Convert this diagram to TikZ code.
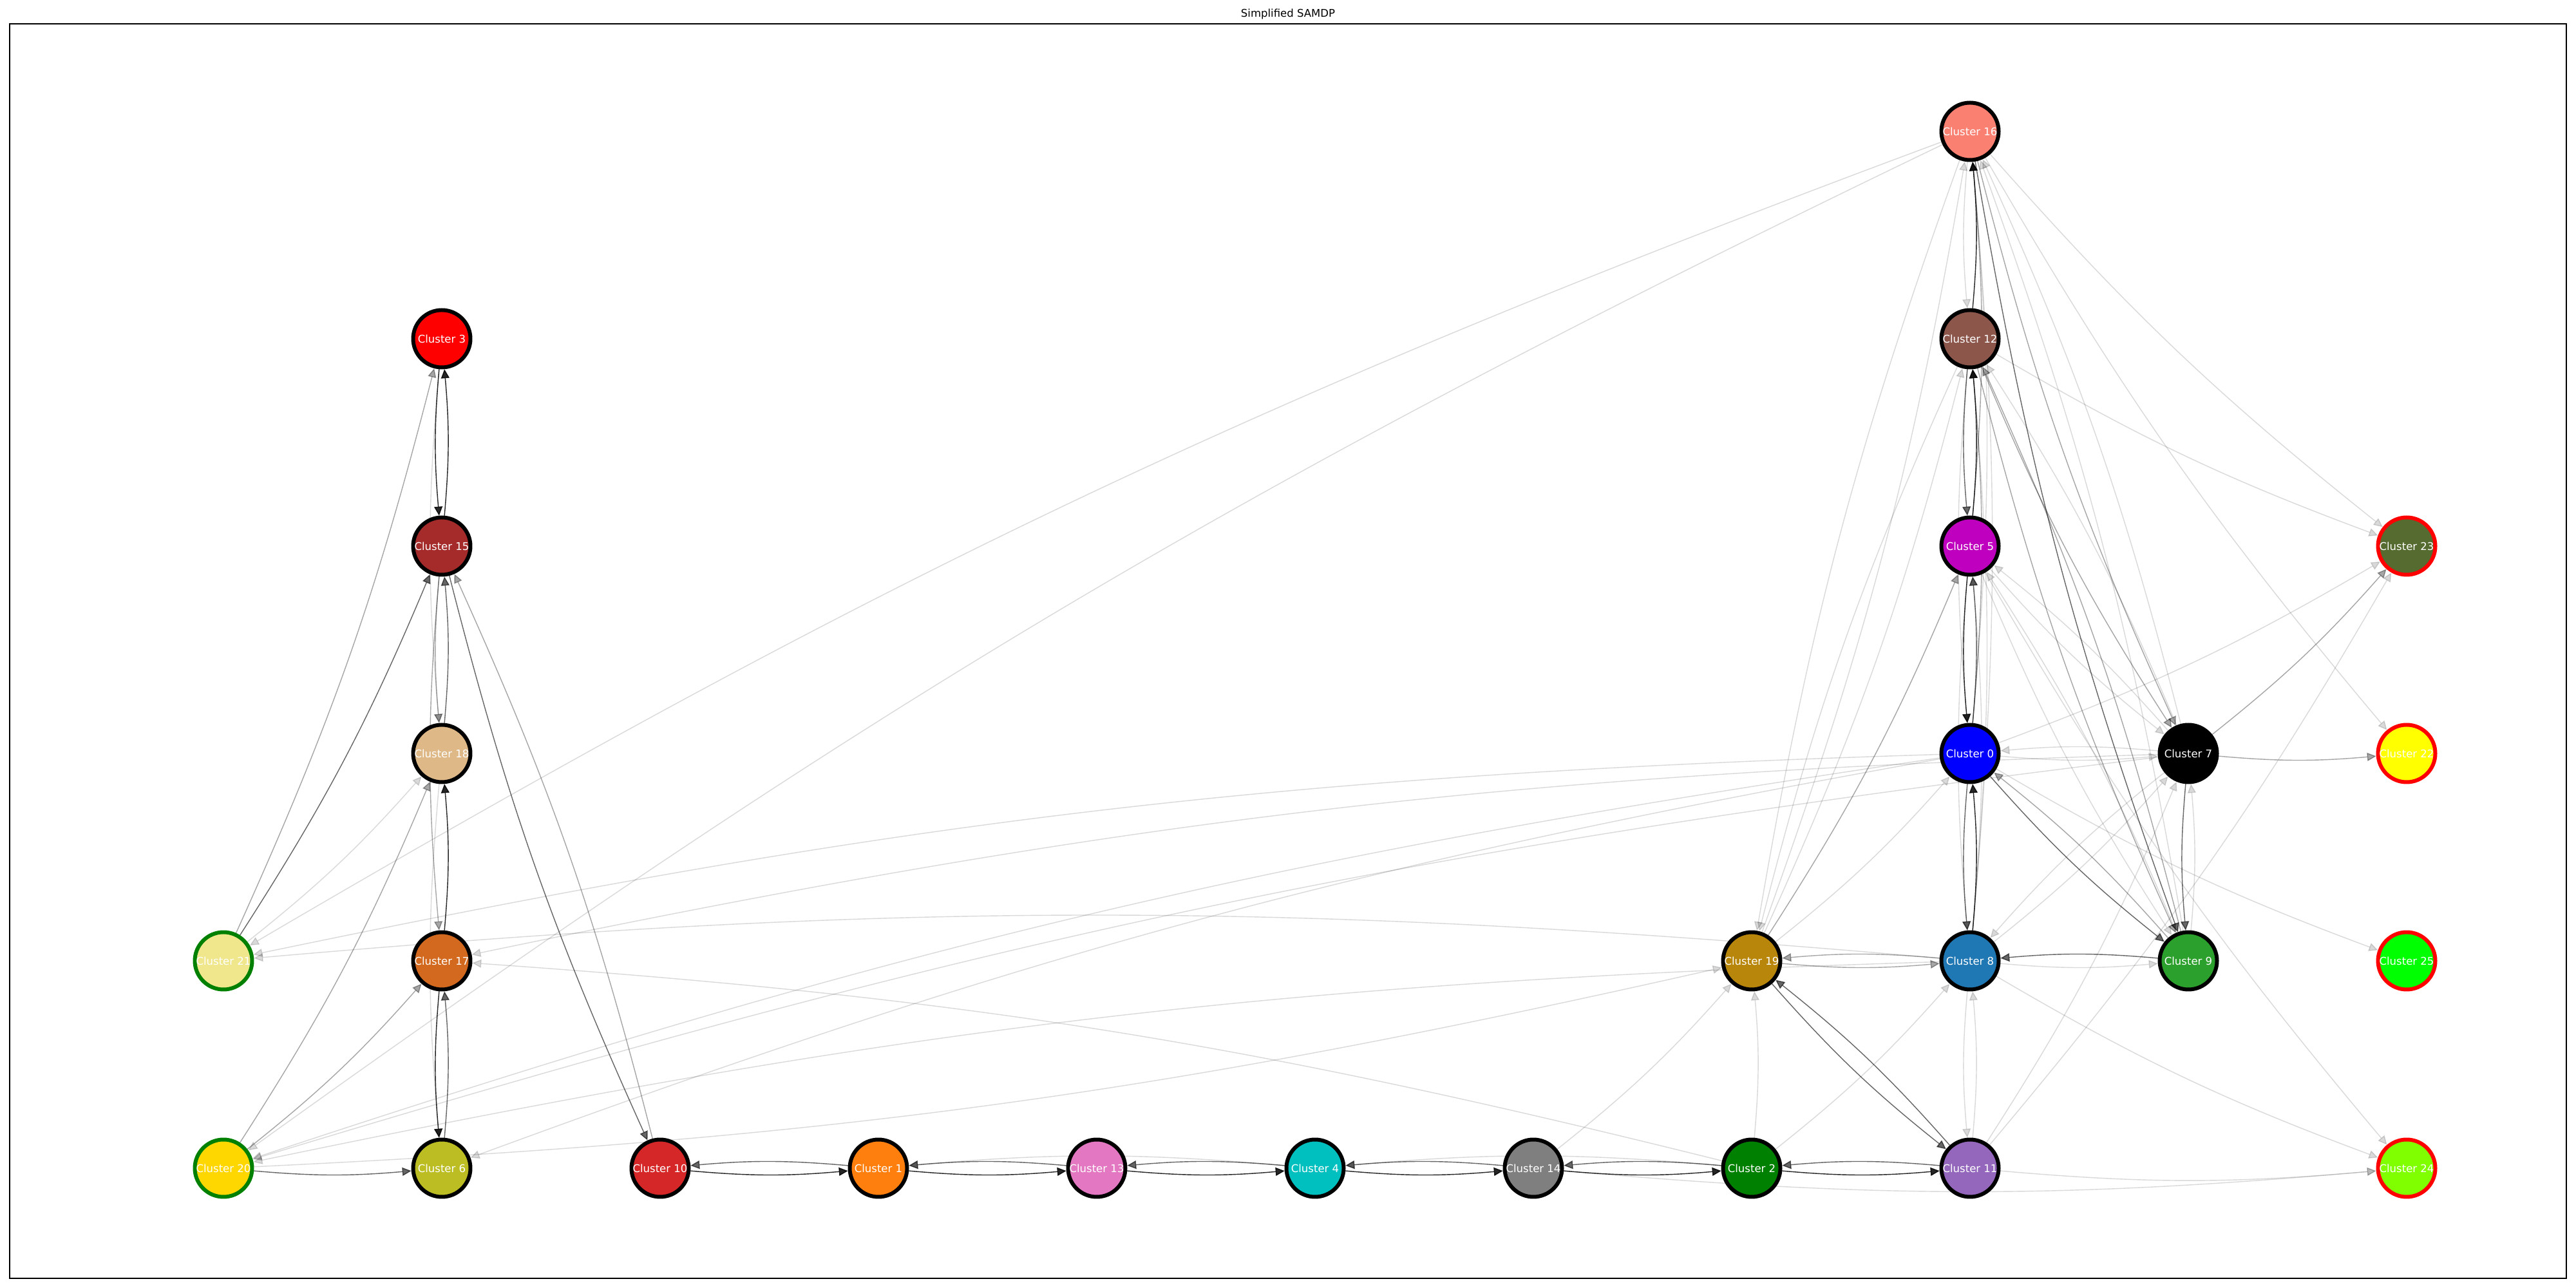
\documentclass[tikz,border=0pt]{standalone}
\usepackage{fontspec}
\setmainfont{DejaVu Sans}
\usetikzlibrary{arrows.meta,backgrounds}
\definecolor{salmon}{HTML}{FA8072}
\definecolor{tabbrown}{HTML}{8C564B}
\definecolor{mbrown}{HTML}{A52A2A}
\definecolor{mmagenta}{HTML}{BF00BF}
\definecolor{darkolive}{HTML}{556B2F}
\definecolor{burlywood}{HTML}{DEB887}
\definecolor{mblue}{HTML}{0000FF}
\definecolor{myellow}{HTML}{FFFF00}
\definecolor{khaki}{HTML}{F0E68C}
\definecolor{chocolate}{HTML}{D2691E}
\definecolor{darkgoldenrod}{HTML}{B8860B}
\definecolor{tabblue}{HTML}{1F77B4}
\definecolor{tabgreen}{HTML}{2CA02C}
\definecolor{mlime}{HTML}{00FF00}
\definecolor{mgold}{HTML}{FFD700}
\definecolor{tabolive}{HTML}{BCBD22}
\definecolor{tabred}{HTML}{D62728}
\definecolor{taborange}{HTML}{FF7F0E}
\definecolor{tabpink}{HTML}{E377C2}
\definecolor{mcyan}{HTML}{00BFBF}
\definecolor{tabgray}{HTML}{7F7F7F}
\definecolor{mgreen}{HTML}{008000}
\definecolor{tabpurple}{HTML}{9467BD}
\definecolor{chartreuse}{HTML}{7FFF00}
\definecolor{mred}{HTML}{FF0000}
\begin{document}
\begin{tikzpicture}[
    cluster/.style={circle,draw=black,line width=1.7pt,minimum size=0.89cm,inner sep=0pt,text=white,font=\fontsize{4.7}{5.6}\selectfont},
    startc/.style={cluster,draw=mgreen},
    endc/.style={cluster,draw=mred},
    trans/.style={-{Triangle[length=1.4mm,width=1.3mm]},line width=0.4pt,bend right=5}]
    \useasboundingbox (0,0) rectangle (40,20);
    \node[font=\fontsize{4.7}{5.6}\selectfont] (title) at (20,19.78) {Simplified SAMDP};
    \draw[line width=0.6pt] (0.15,0.15) rectangle (39.85,19.63);
    \node[cluster,fill=salmon] (c16) at (30.59,17.96) {Cluster 16};
    \node[cluster,fill=mred] (c3) at (6.86,14.74) {Cluster 3};
    \node[cluster,fill=tabbrown] (c12) at (30.59,14.74) {Cluster 12};
    \node[cluster,fill=mbrown] (c15) at (6.86,11.52) {Cluster 15};
    \node[cluster,fill=mmagenta] (c5) at (30.59,11.52) {Cluster 5};
    \node[endc,fill=darkolive] (c23) at (37.37,11.52) {Cluster 23};
    \node[cluster,fill=burlywood] (c18) at (6.86,8.30) {Cluster 18};
    \node[cluster,fill=mblue] (c0) at (30.59,8.30) {Cluster 0};
    \node[cluster,fill=black] (c7) at (33.98,8.30) {Cluster 7};
    \node[endc,fill=myellow] (c22) at (37.37,8.30) {Cluster 22};
    \node[startc,fill=khaki] (c21) at (3.47,5.08) {Cluster 21};
    \node[cluster,fill=chocolate] (c17) at (6.86,5.08) {Cluster 17};
    \node[cluster,fill=darkgoldenrod] (c19) at (27.20,5.08) {Cluster 19};
    \node[cluster,fill=tabblue] (c8) at (30.59,5.08) {Cluster 8};
    \node[cluster,fill=tabgreen] (c9) at (33.98,5.08) {Cluster 9};
    \node[endc,fill=mlime] (c25) at (37.37,5.08) {Cluster 25};
    \node[startc,fill=mgold] (c20) at (3.47,1.86) {Cluster 20};
    \node[cluster,fill=tabolive] (c6) at (6.86,1.86) {Cluster 6};
    \node[cluster,fill=tabred] (c10) at (10.25,1.86) {Cluster 10};
    \node[cluster,fill=taborange] (c1) at (13.64,1.86) {Cluster 1};
    \node[cluster,fill=tabpink] (c13) at (17.03,1.86) {Cluster 13};
    \node[cluster,fill=mcyan] (c4) at (20.42,1.86) {Cluster 4};
    \node[cluster,fill=tabgray] (c14) at (23.81,1.86) {Cluster 14};
    \node[cluster,fill=mgreen] (c2) at (27.20,1.86) {Cluster 2};
    \node[cluster,fill=tabpurple] (c11) at (30.59,1.86) {Cluster 11};
    \node[endc,fill=chartreuse] (c24) at (37.37,1.86) {Cluster 24};
    \begin{scope}[on background layer]
        \foreach \a/\b in {c3/c15,c15/c3,c17/c18,c17/c6,c5/c0,c12/c16,c5/c12,c8/c0,c10/c1,c1/c13,c13/c4,c4/c14,c14/c2,c2/c11}
            \draw[trans,opacity=0.85] (\a) to (\b);
        \foreach \a/\b in {c18/c15,c21/c15,c15/c10,c6/c17,c20/c6,c0/c5,c12/c5,c0/c8,c9/c8,c0/c9,c7/c9,c16/c9,c19/c11,c11/c19,c1/c10,c13/c1,c4/c13,c14/c4,c2/c14,c11/c2}
            \draw[trans,opacity=0.6] (\a) to (\b);
        \foreach \a/\b in {c21/c3,c15/c18,c20/c18,c10/c15,c20/c17,c19/c8,c8/c19,c9/c0,c7/c23,c7/c22,c12/c9,c9/c12,c16/c7,c12/c7,c19/c5,c15/c17,c0/c12,c5/c16}
            \draw[trans,opacity=0.35] (\a) to (\b);
        \foreach \a/\b in {c16/c22,c16/c12,c12/c0,c8/c12,c8/c16,c0/c16,c8/c5,c5/c8,c8/c11,c11/c8,c2/c19,c0/c7,c7/c0,c8/c9,c9/c7,c5/c7,c7/c5,c5/c9,c9/c5,c7/c8,c8/c7,c0/c25,c8/c24,c11/c24,c5/c24,c16/c23,c12/c23,c0/c23,c11/c23,c16/c21,c16/c20,c0/c21,c8/c21,c0/c20,c7/c20,c8/c20,c0/c6,c7/c17,c2/c17,c20/c19,c21/c18,c18/c6,c3/c18,c19/c16,c19/c12,c16/c19,c12/c19,c19/c0,c9/c16,c7/c16,c7/c12,c2/c8,c14/c19,c4/c1,c2/c4,c14/c24,c11/c7}
            \draw[trans,opacity=0.15] (\a) to (\b);
    \end{scope}
\end{tikzpicture}
\end{document}
